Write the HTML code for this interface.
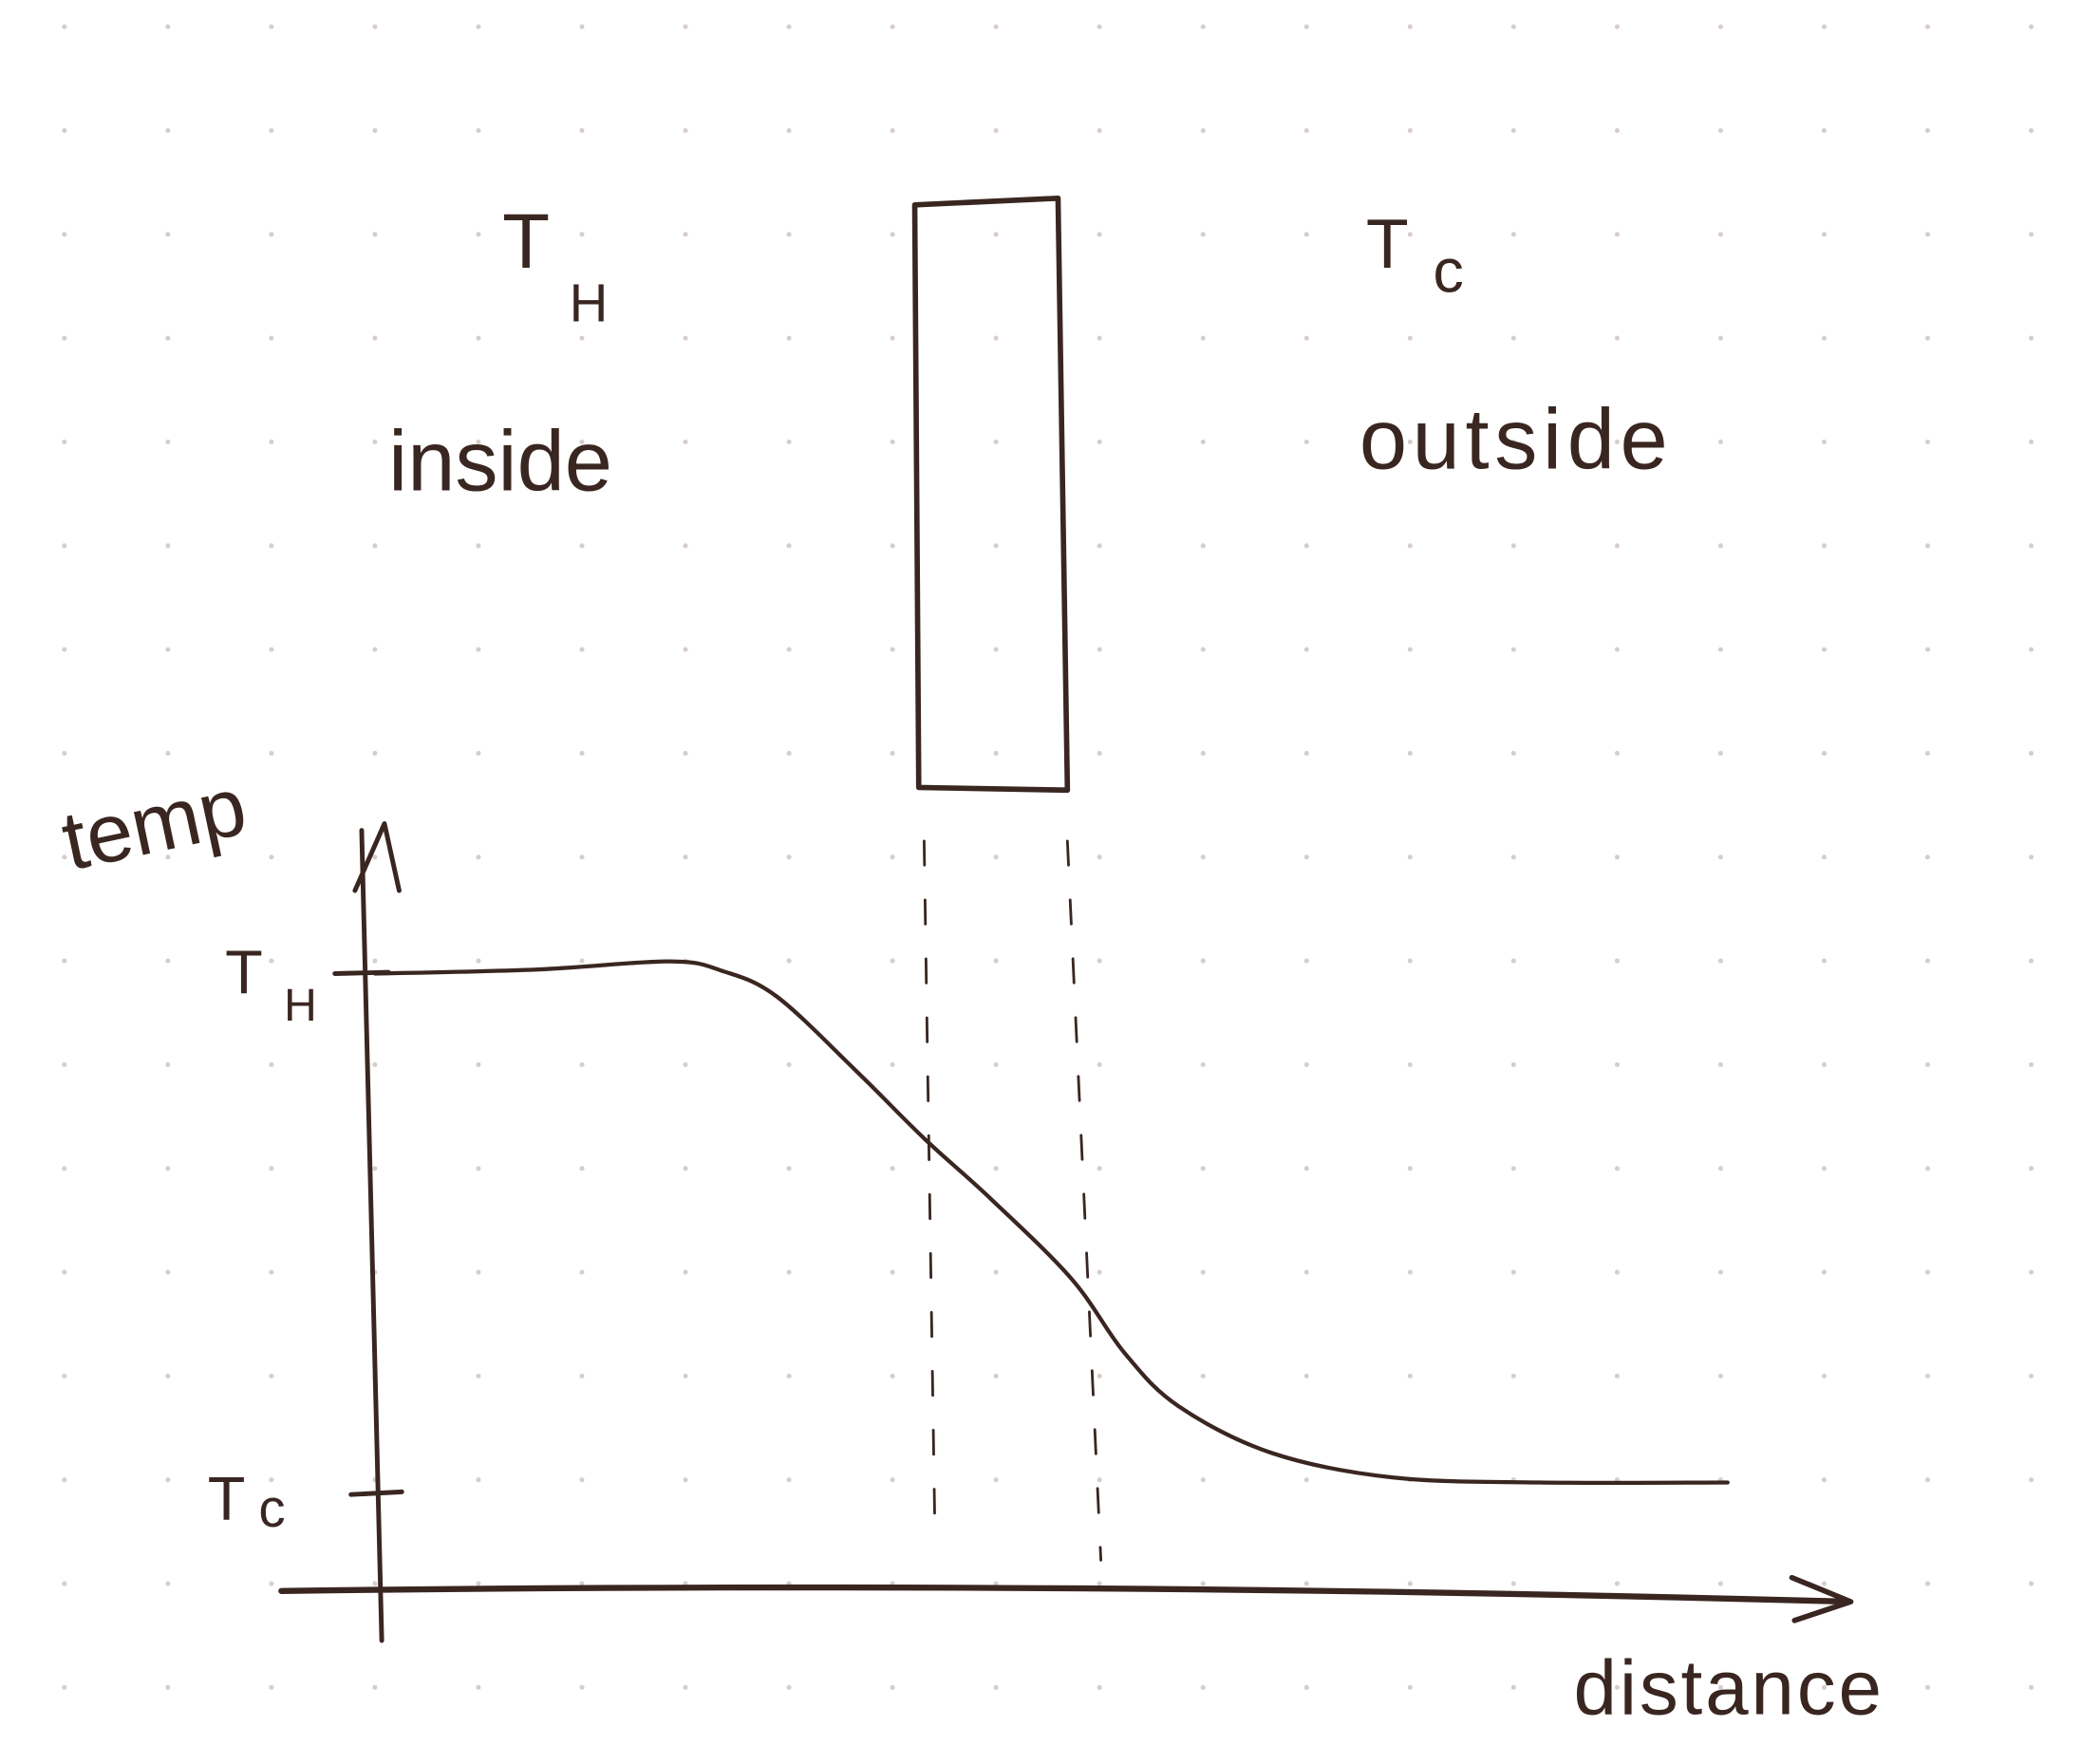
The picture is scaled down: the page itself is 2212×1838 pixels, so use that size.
<!DOCTYPE html>
<html><head><meta charset="utf-8"><style>
html,body{margin:0;padding:0;background:#fff}
svg{display:block}
text{font-family:"Liberation Sans",sans-serif;fill:#3a2620}
</style></head><body>
<svg id="chart" width="2212" height="1838" viewBox="0 0 1568 1303" xmlns="http://www.w3.org/2000/svg">
<g id="dots"></g>
<g stroke="#3a2620" fill="none" stroke-linecap="round" stroke-linejoin="round">
<path d="M683,153 L790,148 L797,590 L686,588 Z" stroke-width="4"/>
<path d="M690,628 L698,1140" stroke-width="2" stroke-dasharray="18,26"/>
<path d="M797,628 L822,1165" stroke-width="2" stroke-dasharray="18,26"/>
<path d="M270,620 Q276,900 285,1225" stroke-width="3.5"/>
<path d="M265,665 L287,615 L298,665" stroke-width="3.5"/>
<path d="M210,1188 Q800,1180 1380,1196" stroke-width="4.5"/>
<path d="M1338,1178 L1382,1196 L1340,1210" stroke-width="4"/>
<path d="M250,727 L290,726" stroke-width="3.5"/>
<path d="M262,1116 L300,1114" stroke-width="3.5"/>
<path id="curve" stroke-width="3"/>
</g>
<text x="375" y="200" font-size="58">T</text>
<text x="425" y="240" font-size="40">H</text>
<text x="1020" y="200" font-size="52">T</text>
<text x="1070" y="218" font-size="46">c</text>
<text x="290" y="366" font-size="64">inside</text>
<text x="1015" y="350" font-size="64" letter-spacing="4">outside</text>
<text x="52" y="650" font-size="62" transform="rotate(-12 52 650)">temp</text>
<text x="1175" y="1280" font-size="58" letter-spacing="2">distance</text>
<text x="168" y="742" font-size="46">T</text>
<text x="212" y="762" font-size="34">H</text>
<text x="155" y="1135" font-size="46">T</text>
<text x="193" y="1140" font-size="40">c</text>
</svg>
<script>
// curve data: distance (0..1 across x axis), temperature (0=Tc, 1=Th)
const distances = [0, 0.119, 0.218, 0.257, 0.297, 0.356, 0.406, 0.455, 0.515, 0.554, 0.594, 0.663, 0.752, 0.861, 1.0];
const temps     = [1, 1.008, 1.024, 1.005, 0.955, 0.808, 0.676, 0.558, 0.40, 0.255, 0.15, 0.058, 0.01, 0.0, 0.0];
const X0 = 280, X1 = 1290, Y_TH = 727, Y_TC = 1107;
function xScale(d){ return X0 + d*(X1-X0); }
function yScale(t){ return Y_TC + t*(Y_TH-Y_TC); }
const pts = distances.map((d,i)=>[xScale(d), yScale(temps[i])]);
let d = 'M'+pts[0][0]+','+pts[0][1];
for(let i=0;i<pts.length-1;i++){
  const p0=pts[i-1]||pts[i], p1=pts[i], p2=pts[i+1], p3=pts[i+2]||p2;
  const c1=[p1[0]+(p2[0]-p0[0])/6, p1[1]+(p2[1]-p0[1])/6];
  const c2=[p2[0]-(p3[0]-p1[0])/6, p2[1]-(p3[1]-p1[1])/6];
  d+=' C'+c1+' '+c2+' '+p2;
}
document.getElementById('curve').setAttribute('d', d);
const g = document.getElementById('dots');
for(let x=48;x<1568;x+=77.3){
  for(let y=20;y<1303;y+=77.5){
    const c=document.createElementNS('http://www.w3.org/2000/svg','circle');
    c.setAttribute('cx',x); c.setAttribute('cy',y); c.setAttribute('r',1.8);
    c.setAttribute('fill','#d8cccc');
    
    
    g.appendChild(c);
  }
}
</script>
</body></html>
